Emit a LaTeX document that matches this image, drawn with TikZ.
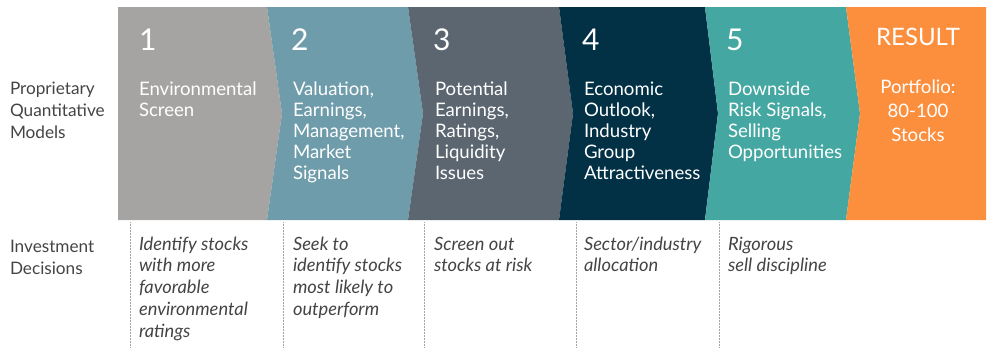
\documentclass[tikz,border=0pt]{standalone}
\usepackage{fontspec}
\setmainfont{Lato}
\definecolor{greystep}{HTML}{A5A4A2}
\definecolor{bluestep}{HTML}{6F9CAB}
\definecolor{slatestep}{HTML}{5B6670}
\definecolor{navystep}{HTML}{023045}
\definecolor{tealstep}{HTML}{45A7A1}
\definecolor{resultorange}{HTML}{FC8F3D}
\definecolor{labelgrey}{HTML}{444444}
\begin{document}
\begin{tikzpicture}[x=1pt,y=-1pt,
  every node/.style={inner sep=0pt,outer sep=0pt},
  num/.style={anchor=base west,text=white,font=\fontsize{30}{30}\selectfont},
  model/.style={anchor=base west,text=white,align=left,font=\fontsize{18.6}{21}\selectfont},
  result/.style={anchor=base,text=white,align=center,font=\fontsize{18.6}{24}\selectfont},
  rowlabel/.style={anchor=base west,text=labelgrey,align=left,font=\fontsize{17.2}{22}\selectfont},
  decision/.style={anchor=base west,text=labelgrey,align=left,font=\fontsize{18.3}{21.8}\selectfont\itshape},
  divider/.style={draw=gray!70,densely dotted,line width=0.5pt}]
\useasboundingbox (0,0) rectangle (993,348);
% chevrons
\fill[greystep] (118,7) -- (267,7) -- (282,113.5) -- (267,220) -- (118,220) -- cycle;
\fill[bluestep] (267,7) -- (408,7) -- (423,113.5) -- (408,220) -- (267,220) -- (282,113.5) -- cycle;
\fill[slatestep] (408,7) -- (559,7) -- (573,113.5) -- (559,220) -- (408,220) -- (423,113.5) -- cycle;
\fill[navystep] (559,7) -- (705,7) -- (718,113.5) -- (705,220) -- (559,220) -- (573,113.5) -- cycle;
\fill[tealstep] (705,7) -- (846,7) -- (860,113.5) -- (846,220) -- (705,220) -- (718,113.5) -- cycle;
\fill[resultorange] (846,7) -- (986,7) -- (986,220) -- (846,220) -- (860,113.5) -- cycle;
% row labels (base anchor sits on the last line)
\node[rowlabel] (models) at (10,94+2*22) {Proprietary\\Quantitative\\Models};
\node[rowlabel] (decisions) at (10,252+22) {Investment\\Decisions};
% steps
\node[num] (n1) at (139,50) {1};
\node[num] (n2) at (291,50) {2};
\node[num] (n3) at (433,50) {3};
\node[num] (n4) at (582,50) {4};
\node[num] (n5) at (726,50) {5};
\node[model] (m1) at (139,95+21) {Environmental\\Screen};
\node[model] (m2) at (293,95+4*21) {Valuation,\\Earnings,\\Management,\\Market\\Signals};
\node[model] (m3) at (435,95+4*21) {Potential\\Earnings,\\Ratings,\\Liquidity\\Issues};
\node[model] (m4) at (584,95+4*21) {Economic\\Outlook,\\Industry\\Group\\Attractiveness};
\node[model] (m5) at (728,95+3*21) {Downside\\Risk Signals,\\Selling\\Opportunities};
\node[result,font=\fontsize{24}{24}\selectfont] (res) at (918,45) {RESULT};
\node[result] (port) at (918,93+2*24) {Portfolio:\\80-100\\Stocks};
% decisions
\foreach \x [count=\i] in {130,283,424,576,719}
  \coordinate (d\i) at (\x,222);
\foreach \i in {1,...,5}
  \draw[divider] (d\i) -- ++(0,126);
\node[decision] (t1) at (139,250+4*21.8) {Identify stocks\\with more\\favorable\\environmental\\ratings};
\node[decision] (t2) at (293,250+3*21.8) {Seek to\\identify stocks\\most likely to\\outperform};
\node[decision] (t3) at (434,250+21.8) {Screen out\\stocks at risk};
\node[decision] (t4) at (584,250+21.8) {Sector/industry\\allocation};
\node[decision] (t5) at (728,250+21.8) {Rigorous\\sell discipline};
\end{tikzpicture}
\end{document}
